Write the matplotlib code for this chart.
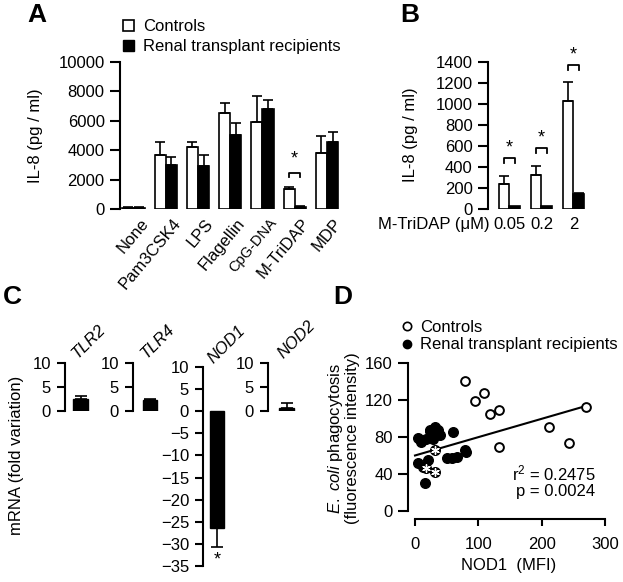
import numpy as np
import matplotlib
matplotlib.use("Agg")
import matplotlib.pyplot as plt
from matplotlib.lines import Line2D
from matplotlib.patches import Patch

plt.rcParams['font.family'] = ['Liberation Sans', 'DejaVu Sans']
plt.rcParams['font.size'] = 12
plt.rcParams['mathtext.fontset'] = 'custom'
plt.rcParams['mathtext.rm'] = 'Liberation Sans'
plt.rcParams['mathtext.it'] = 'Liberation Sans:italic'

## Data
# A : IL-8 per stimulus
stimuli = ["None", "Pam3CSK4", "LPS", "Flagellin", "CpG-DNA", "M-TriDAP", "MDP"]
ctrl_A = [100, 3650, 4230, 6550, 5930, 1330, 3830]
ctrl_A_err = [50, 920, 350, 680, 1770, 140, 1130]
rtr_A = [100, 3000, 2950, 5030, 6780, 150, 4530]
rtr_A_err = [50, 520, 700, 800, 630, 50, 680]
sig_A = {5: 2480}  # group index -> bracket height

# B : M-TriDAP dose
doses = ["0.05", "0.2", "2"]
ctrl_B = [238, 320, 1027]
ctrl_B_err = [80, 92, 183]
rtr_B = [25, 30, 140]
rtr_B_err = [0, 0, 15]
sig_B = [485, 580, 1370]

# C : mRNA fold variation
genes = ["TLR2", "TLR4", "NOD1", "NOD2"]
fold = [2.5, 2.3, -26.3, 0.7]
fold_err = [0.6, 0.3, 4.3, 0.9]

# D : phagocytosis vs NOD1
ctrl_x = [79, 95, 109, 118, 133, 132, 211, 244, 270]
ctrl_y = [140, 119, 127, 105, 109, 69, 91, 74, 112]
rtr_x = [5, 10, 18, 24, 29, 32, 34, 39, 60, 5, 13, 21, 16, 50, 58, 66, 79, 81, 24, 27, 36]
rtr_y = [79, 75, 78, 86, 78, 91, 86, 82, 85, 52, 48, 55, 30, 57, 57, 58, 66, 64, 88, 84, 88]
ast_x = [32, 18, 32]
ast_y = [66, 46, 42]
fit_x = [0, 270]
fit_y = [60, 113.5]

W, H = 623, 582
fig = plt.figure(figsize=(W / 100, H / 100), dpi=100)

def box(x0, y0, x1, y1):
    return [x0 / W, 1 - y1 / H, (x1 - x0) / W, (y1 - y0) / H]

def fx(x):
    return x / W

def fy(y):
    return 1 - y / H

def clean(ax, lw=1.5):
    for s in ["top", "right", "bottom"]:
        ax.spines[s].set_visible(False)
    ax.spines["left"].set_linewidth(lw)
    ax.tick_params(axis="y", direction="out", length=7, width=lw, pad=4)
    ax.tick_params(axis="x", length=0)
    ax.patch.set_alpha(0)

def bracket(ax, x0, x1, y, leg, star_dy):
    ax.plot([x0, x0, x1, x1], [y - leg, y, y, y - leg], color="k", lw=1.3, clip_on=False)
    ax.text((x0 + x1) / 2, y + star_dy, "*", ha="center", va="center", fontsize=13, clip_on=False)

##Panel A
axA = fig.add_axes(box(120, 62, 345, 209))
clean(axA)
xa = np.arange(len(stimuli))
bw = 0.347
axA.bar(xa - bw / 2, ctrl_A, bw, color="white", edgecolor="k", lw=1.2)
axA.bar(xa + bw / 2, rtr_A, bw, color="k", edgecolor="k", lw=1.2)
axA.errorbar(xa - bw / 2, ctrl_A, yerr=[np.zeros(7), ctrl_A_err], fmt="none", ecolor="k", elinewidth=1.2, capsize=3.5, capthick=1.2)
axA.errorbar(xa + bw / 2, rtr_A, yerr=[np.zeros(7), rtr_A_err], fmt="none", ecolor="k", elinewidth=1.2, capsize=3.5, capthick=1.2)
axA.set_xlim(-0.42, 6.56)
axA.set_ylim(0, 10000)
axA.set_yticks([0, 2000, 4000, 6000, 8000, 10000])
axA.set_xticks(xa + 0.2)
axA.set_xticklabels(stimuli, rotation=50, ha="right", rotation_mode="anchor")
axA.tick_params(axis="x", pad=5)
axA.get_xticklabels()[4].set_fontsize(10.5)
axA.set_ylabel("IL-8 (pg / ml)")
axA.yaxis.set_label_coords((43 - 120) / 225, 0.5)
for i, h in sig_A.items():
    bracket(axA, i - bw / 2, i + bw / 2, h, 300, 900)
axA.legend(handles=[Patch(facecolor="white", edgecolor="k", lw=1.2), Patch(facecolor="k", edgecolor="k")],
           labels=["Controls", "Renal transplant recipients"], loc="upper left",
           bbox_to_anchor=(fx(123), fy(19)), bbox_transform=fig.transFigure, frameon=False,
           handlelength=0.65, handleheight=0.65, handletextpad=0.55, labelspacing=0.3, borderpad=0, borderaxespad=0)

##Panel B
axB = fig.add_axes(box(488, 46, 600, 209))
clean(axB)
xb = np.arange(len(doses))
bwb = 0.34
axB.bar(xb - bwb / 2, ctrl_B, bwb, color="white", edgecolor="k", lw=1.2)
axB.bar(xb + bwb / 2, rtr_B, bwb, color="k", edgecolor="k", lw=1.2)
axB.errorbar(xb - bwb / 2, ctrl_B, yerr=[np.zeros(3), ctrl_B_err], fmt="none", ecolor="k", elinewidth=1.2, capsize=3.5, capthick=1.2)
axB.errorbar(xb[2:] + bwb / 2, rtr_B[2:], yerr=[[0], rtr_B_err[2:]], fmt="none", ecolor="k", elinewidth=1.2, capsize=3.5, capthick=1.2)
axB.set_xlim(-0.672, 2.83)
axB.set_ylim(0, 1552)
axB.spines["left"].set_bounds(0, 1400)
axB.set_yticks(range(0, 1401, 200))
axB.set_xticks(xb)
axB.set_xticklabels(doses)
axB.tick_params(axis="x", pad=6)
axB.set_ylabel("IL-8 (pg / ml)")
axB.yaxis.set_label_coords((418 - 488) / 112, (209 - 135) / 163)
for i, h in enumerate(sig_B):
    bracket(axB, i - bwb / 2, i + bwb / 2, h, 45, 95)
fig.text(fx(490), fy(224), "M-TriDAP (μM)", ha="right", va="center")

##Panel C
c_boxes = [(65, 363, 100, 411), (133, 363, 168, 411), (203, 367, 238, 566), (268, 363, 303, 411)]
c_off = [15.5, 17, 14, 18.5]
for k, g in enumerate(genes):
    ax = fig.add_axes(box(*c_boxes[k]))
    clean(ax)
    ax.tick_params(axis="y", length=6, pad=4)
    ax.set_xlim(0, 35)
    if fold[k] < 0:
        ax.set_ylim(-35, 10)
        ax.set_yticks(range(-35, 11, 5))
        ax.errorbar([c_off[k]], [fold[k]], yerr=[[fold_err[k]], [0]], fmt="none", ecolor="k", elinewidth=1.2, capsize=4, capthick=1.2)
        ax.text(c_off[k], fold[k] - fold_err[k] - 3.0, "*", ha="center", va="center", fontsize=13)
    else:
        ax.set_ylim(0, 10)
        ax.set_yticks([0, 5, 10])
        ax.errorbar([c_off[k]], [fold[k]], yerr=[[0], [fold_err[k]]], fmt="none", ecolor="k", elinewidth=1.2, capsize=4, capthick=1.2)
    ax.bar([c_off[k]], [fold[k]], 14.5, color="k", edgecolor="k")
    ax.set_xticks([])
    ax.text(c_off[k] - 1, 10.3, g, style="italic", rotation=45, rotation_mode="anchor",
            ha="left", va="bottom", clip_on=False)
fig.text(fx(17), fy(455), "mRNA (fold variation)", rotation=90, ha="center", va="center")

##Panel D
axD = fig.add_axes(box(408, 360, 610, 519))
axD.patch.set_alpha(0)
for s in ["top", "right"]:
    axD.spines[s].set_visible(False)
axD.spines["left"].set_linewidth(1.5)
axD.spines["bottom"].set_linewidth(1.5)
axD.spines["left"].set_bounds(0, 160)
axD.spines["bottom"].set_bounds(0, 300)
axD.set_xlim(-11.06, 308)
axD.set_ylim(-8.65, 163.2)
axD.set_yticks([0, 40, 80, 120, 160])
axD.set_xticks([0, 100, 200, 300])
axD.tick_params(direction="out", length=7, width=1.5, pad=4)
axD.tick_params(axis="x", length=5, pad=8)
axD.plot(fit_x, fit_y, color="k", lw=1.5, zorder=1)
axD.scatter(ctrl_x, ctrl_y, s=40, facecolor="white", edgecolor="k", linewidth=1.4, zorder=3)
axD.scatter(rtr_x, rtr_y, s=48, facecolor="k", edgecolor="k", zorder=2)
axD.scatter(ast_x, ast_y, s=48, facecolor="k", edgecolor="k", zorder=4)
axD.scatter(ast_x, ast_y, s=30, marker=(6, 2, 0), color="white", linewidth=1.0, zorder=5)
axD.set_ylabel("$\\it{E.\\ coli}$ phagocytosis\n(fluorescence intensity)", linespacing=1.0)
axD.yaxis.set_label_coords((360 - 408) / 202, (519 - 438) / 159)
axD.set_xlabel("NOD1  (MFI)", labelpad=4)
axD.text(285, 32, "r$^2$ = 0.2475\np = 0.0024", ha="right", va="center", linespacing=1.0)
fig.legend(handles=[Line2D([], [], marker="o", ls="", mfc="white", mec="k", mew=1.2, ms=6),
                    Line2D([], [], marker="o", ls="", mfc="k", mec="k", ms=6)],
           labels=["Controls", "Renal transplant recipients"], loc="upper left",
           bbox_to_anchor=(fx(401), fy(320)), bbox_transform=fig.transFigure, frameon=False,
           handlelength=0.7, handletextpad=0.45, labelspacing=0.15, borderpad=0, borderaxespad=0)

## Panel letters
for lab, (x, y) in zip("ABCD", [(27, 3), (400, 3), (3, 285), (333, 285)]):
    fig.text(fx(x), fy(y), lab, fontsize=19, fontweight="bold", ha="left", va="top")

fig.savefig("out.png", dpi=100)
